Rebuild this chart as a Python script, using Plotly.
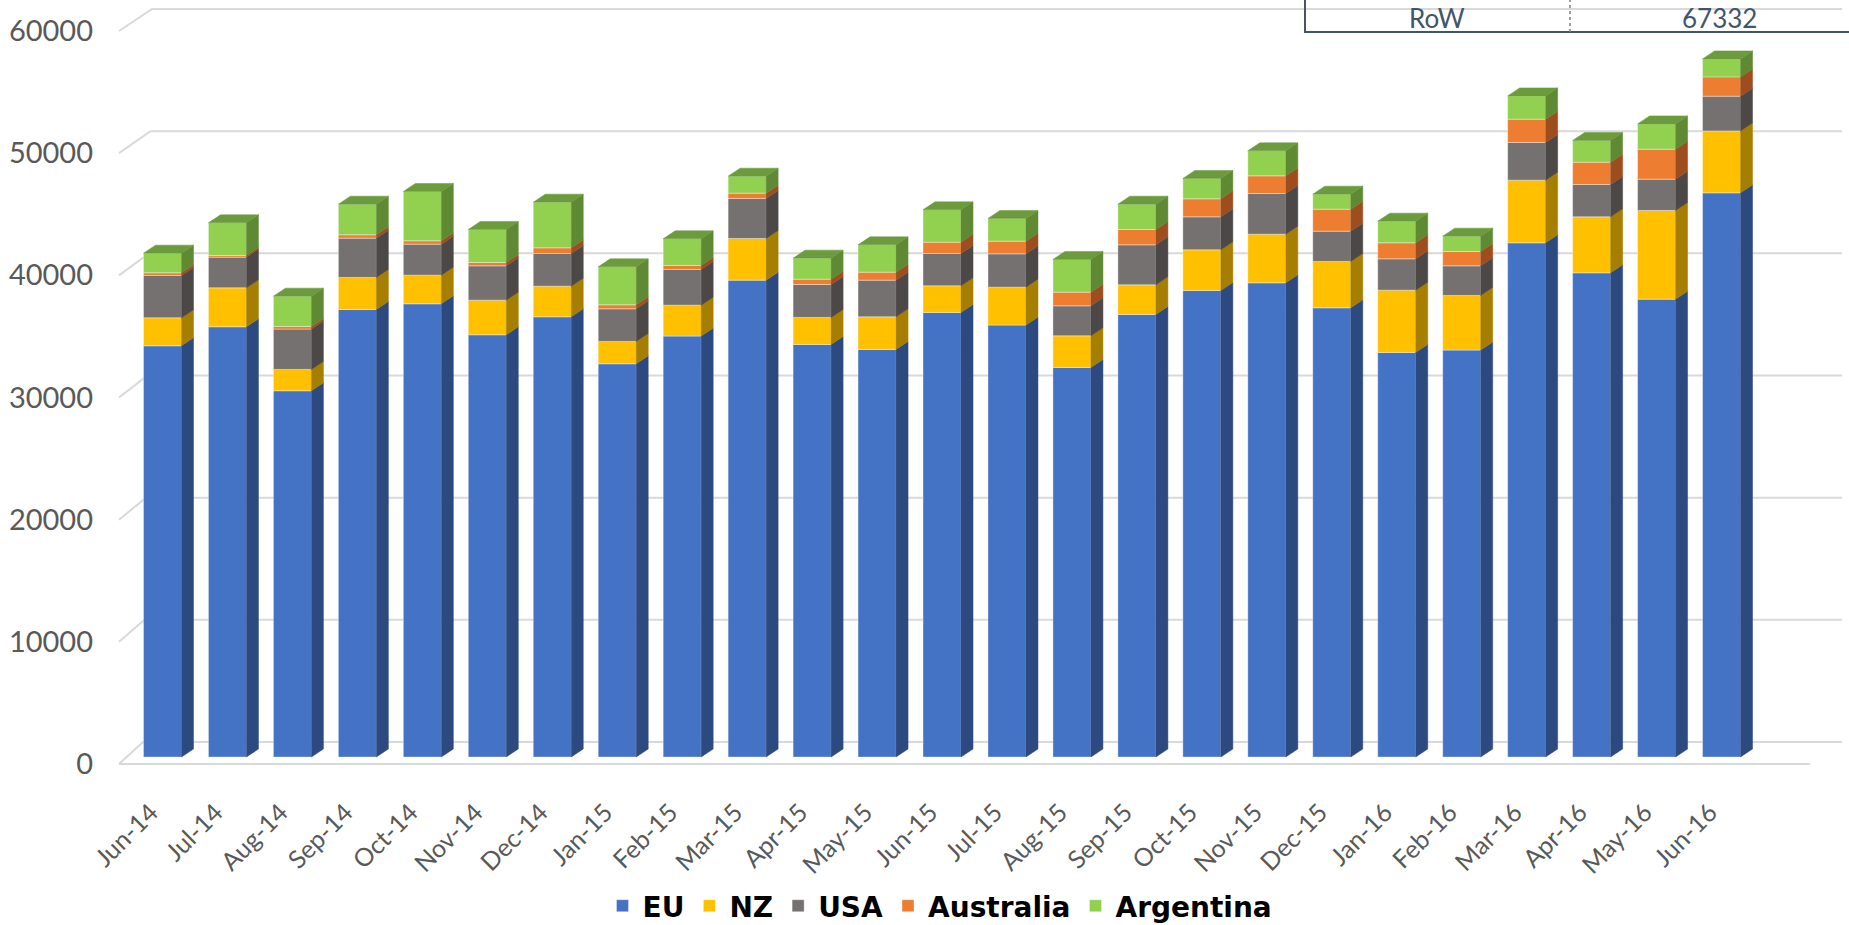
import numpy as np
import plotly.graph_objects as go

# ---- data -------------------------------------------------------------
months = ["Jun-14", "Jul-14", "Aug-14", "Sep-14", "Oct-14", "Nov-14", "Dec-14",
          "Jan-15", "Feb-15", "Mar-15", "Apr-15", "May-15", "Jun-15", "Jul-15",
          "Aug-15", "Sep-15", "Oct-15", "Nov-15", "Dec-15", "Jan-16", "Feb-16",
          "Mar-16", "Apr-16", "May-16", "Jun-16"]

eu = [33656, 35212, 29975, 36635, 37094, 34557, 36030, 32184, 34450, 39033,
      33771, 33362, 36390, 35351, 31889, 36226, 38190, 38812, 36766, 33117,
      33305, 42085, 39631, 37478, 46177]
nz = [2290, 3192, 1750, 2619, 2348, 2839, 2512, 1833, 2537, 3412,
      2209, 2668, 2177, 3109, 2586, 2422, 3323, 3985, 3797, 5098,
      4476, 5131, 4582, 7258, 5073]
usa = [3470, 2511, 3298, 3216, 2537, 2807, 2676, 2667, 2922, 3273,
       2701, 3003, 2651, 2725, 2455, 3274, 2700, 3330, 2480, 2561,
       2422, 3085, 2651, 2562, 2840]
australia = [213, 139, 221, 270, 270, 278, 458, 328, 327, 434,
             434, 655, 924, 1039, 1121, 1260, 1473, 1441, 1800, 1309,
             1178, 1907, 1825, 2455, 1579]
argentina = [1614, 2668, 2480, 2512, 4042, 2701, 3740, 3110, 2177, 1391,
             1718, 2234, 2644, 1858, 2676, 2070, 1669, 2046, 1227, 1776,
             1252, 1907, 1776, 2070, 1473]

y_ticks = [0, 10000, 20000, 30000, 40000, 50000, 60000]

table_label = "RoW"
table_value = "67332"

# (name, values, front colour, side colour)
series = [
    ("EU", eu, "#4472C4", "#2C4A80"),
    ("NZ", nz, "#FFC000", "#A67E00"),
    ("USA", usa, "#767171", "#4C4848"),
    ("Australia", australia, "#ED7D31", "#9E4E1E"),
    ("Argentina", argentina, "#92D050", "#5F8A33"),
]
top_colour = "#6B9B3C"

# ---- geometry (pseudo-3D column look) ---------------------------------
W, H = 1849, 925
M_L, M_R, M_T, M_B = 98, 0, 0, 145
PLOT_W = W - M_L - M_R
PLOT_H = H - M_T - M_B

PX_PER_CAT = 64.96            # horizontal spacing of categories
UNITS_PER_PX = 10000 / 122.17  # vertical value scale
FIRST_CAT_PX = 162.5          # page x of first column centre
ZERO_PX = 764                 # page y of the value 0 on the label plane


def ux(px):
    """page-x offset in pixels -> category units"""
    return px / PX_PER_CAT


def uy(px):
    """page-y offset in pixels -> value units"""
    return px * UNITS_PER_PX


x_min = -ux(FIRST_CAT_PX - M_L)
x_max = x_min + ux(PLOT_W)
y_min = -uy(PLOT_H - ZERO_PX)
y_max = uy(ZERO_PX)

BAR_W = ux(38)
SIDE_DX = ux(12)
SIDE_DY = uy(8)
BAR_LIFT = uy(7)
WALL_DY = uy(22)
WALL_LEFT_FRONT = ux(119 - FIRST_CAT_PX)
WALL_RIGHT = ux(1842 - FIRST_CAT_PX)
FLOOR_RIGHT = ux(1810 - FIRST_CAT_PX)

idx = np.arange(len(months))

fig = go.Figure()

# back-wall gridlines with their short diagonal on the side wall
shapes = []
for v in y_ticks:
    back_left = ux(143 + 9 * v / 60000 - FIRST_CAT_PX)
    path = (f"M {WALL_LEFT_FRONT},{v} L {back_left},{v + WALL_DY} "
            f"L {WALL_RIGHT},{v + WALL_DY}")
    shapes.append(dict(type="path", path=path, xref="x", yref="y",
                       line=dict(color="#D9D9D9", width=2), layer="below"))
# front edge of the floor
shapes.append(dict(type="line", xref="x", yref="y", x0=WALL_LEFT_FRONT, x1=FLOOR_RIGHT,
                   y0=0, y1=0, line=dict(color="#D9D9D9", width=2), layer="below"))

cum = np.zeros(len(months))
for name, vals, front, side in series:
    vals = np.asarray(vals, dtype=float)
    base = cum + BAR_LIFT
    fig.add_trace(go.Bar(
        x=idx, y=vals, base=base, width=BAR_W, name=name,
        marker=dict(color=front, line=dict(color="rgba(255,255,255,0.35)", width=1)),
    ))
    xs, ys = [], []
    for i in idx:
        xr = i + BAR_W / 2
        y0, y1 = base[i], base[i] + vals[i]
        xs += [xr, xr + SIDE_DX, xr + SIDE_DX, xr, xr, None]
        ys += [y0, y0 + SIDE_DY, y1 + SIDE_DY, y1, y0, None]
    fig.add_trace(go.Scatter(
        x=xs, y=ys, mode="lines", fill="toself", fillcolor=side,
        line=dict(color=side, width=0.5), hoverinfo="skip", showlegend=False,
    ))
    cum += vals

# top faces of the columns
xs, ys = [], []
for i in idx:
    xl, xr = i - BAR_W / 2, i + BAR_W / 2
    t = cum[i] + BAR_LIFT
    xs += [xl, xr, xr + SIDE_DX, xl + SIDE_DX, xl, None]
    ys += [t, t, t + SIDE_DY, t + SIDE_DY, t, None]
fig.add_trace(go.Scatter(
    x=xs, y=ys, mode="lines", fill="toself", fillcolor=top_colour,
    line=dict(color=top_colour, width=0.5), hoverinfo="skip", showlegend=False,
))


def paper_x(px):
    return (px - M_L) / PLOT_W


def paper_y(py):
    return (M_T + PLOT_H - py) / PLOT_H


# table cell in the upper right corner
TABLE_BOTTOM = 32
shapes.append(dict(type="rect", xref="paper", yref="paper",
                   x0=paper_x(1305), x1=paper_x(1860), y0=paper_y(TABLE_BOTTOM),
                   y1=paper_y(-10),
                   line=dict(color="#44546A", width=2), fillcolor="rgba(0,0,0,0)"))
shapes.append(dict(type="line", xref="paper", yref="paper",
                   x0=paper_x(1570), x1=paper_x(1570), y0=paper_y(TABLE_BOTTOM),
                   y1=paper_y(-10),
                   line=dict(color="#7F7F7F", width=1.5, dash="dot")))

table_font = dict(family="Lato", size=26, color="#44546A")
annotations = [
    dict(text=table_label, xref="paper", yref="paper", x=paper_x(1437), y=paper_y(0),
         showarrow=False, xanchor="center", yanchor="top", font=table_font),
    dict(text=table_value, xref="paper", yref="paper", x=paper_x(1719), y=paper_y(0),
         showarrow=False, xanchor="center", yanchor="top", font=table_font),
]

fig.update_layout(
    width=W, height=H,
    margin=dict(l=M_L, r=M_R, t=M_T, b=M_B, pad=0, autoexpand=False),
    paper_bgcolor="white", plot_bgcolor="white",
    barmode="overlay",
    shapes=shapes, annotations=annotations,
    font=dict(family="Lato", color="#595959"),
    xaxis=dict(range=[x_min, x_max], showgrid=False, zeroline=False, showline=False,
               automargin=False,
               tickmode="array", tickvals=idx - 0.18, ticktext=months, tickangle=-45,
               ticks="", ticklabelstandoff=12,
               tickfont=dict(family="Lato", size=25, color="#595959")),
    yaxis=dict(range=[y_min, y_max], showgrid=False, zeroline=False, showline=False,
               automargin=False,
               tickmode="array", tickvals=y_ticks, ticktext=[str(v) for v in y_ticks],
               ticks="", ticklabelstandoff=4,
               tickfont=dict(family="Lato", size=29, color="#595959")),
    legend=dict(orientation="h", xref="container", yref="container",
                x=940 / W, xanchor="center",
                y=(H - 906) / H, yanchor="middle",
                font=dict(family="DejaVu Sans", size=28, color="black", weight="bold"),
                itemwidth=30, tracegroupgap=0),
    showlegend=True,
)

fig.write_html("out.html")
